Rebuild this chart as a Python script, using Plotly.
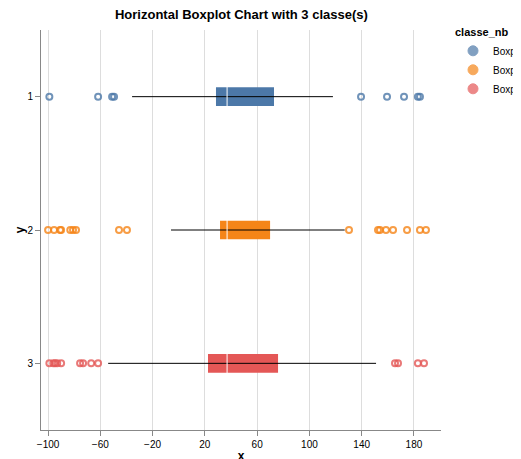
import plotly.graph_objects as go

classes = ["1", "2", "3"]
names = ["Boxplot_1", "Boxplot_2", "Boxplot_3"]
colors = ["#4c78a8", "#f58518", "#e45756"]
q1 = [28.5, 31.6, 22.4]
median = [37, 37, 37]
q3 = [72.9, 69.9, 76.0]
lower = [-35.7, -5.9, -54.0]
upper = [118.0, 127.0, 151.0]
outliers = [
    [-99, -61.7, -51, -49.5, 139.5, 159.4, 172.4, 183, 184.6],
    [-100, -95.4, -90.8, -90, -83, -80.9, -78.6, -45.7, -39.6, 130.3,
     152.5, 154, 158.6, 164, 174.7, 184.6, 189.2],
    [-99, -96, -94.6, -93, -90, -75.5, -73.2, -67, -61.7, 165.5, 167.8, 183, 187.7],
]
x_ticks = [-100, -60, -20, 20, 60, 100, 140, 180]

fig = go.Figure()
for i, c in enumerate(classes):
    fig.add_trace(go.Scatter(x=[lower[i], upper[i]], y=[c, c], mode="lines",
                             line=dict(color="black", width=1), showlegend=False, hoverinfo="skip"))
    fig.add_trace(go.Bar(y=[c], x=[q3[i] - q1[i]], base=[q1[i]], orientation="h", width=0.14,
                         marker=dict(color=colors[i], line=dict(width=0)), showlegend=False))
    fig.add_trace(go.Scatter(x=[median[i]], y=[c], mode="markers",
                             marker=dict(symbol="line-ns", size=18, line=dict(color="white", width=1)),
                             showlegend=False))
    fig.add_trace(go.Scatter(x=outliers[i], y=[c] * len(outliers[i]), mode="markers",
                             marker=dict(symbol="circle-open", size=6, color=colors[i], opacity=0.8,
                                         line=dict(width=2)),
                             showlegend=False))
    fig.add_trace(go.Scatter(x=[None], y=[None], mode="markers", name=names[i],
                             marker=dict(symbol="circle", size=10, color=colors[i], opacity=0.7,
                                         line=dict(color=colors[i], width=1))))

fig.update_layout(
    width=521, height=459,
    margin=dict(l=33, r=88, t=22, b=37, autoexpand=False),
    plot_bgcolor="white", paper_bgcolor="white",
    font=dict(family="Liberation Sans, Arial", size=10, color="black"),
    title=dict(text="<b>Horizontal Boxplot Chart with 3 classe(s)</b>", x=0.448, xanchor="center",
               y=0.995, yanchor="top", font=dict(size=13)),
    legend=dict(title=dict(text="<b>classe_nb</b>", font=dict(size=11)), x=1.03, y=1.02,
                yanchor="top", font=dict(size=10), tracegroupgap=0),
    barmode="overlay",
)
fig.update_xaxes(range=[-105.4, 200.7], tickvals=x_ticks, title=dict(text="<b>x</b>", standoff=2),
                 showgrid=True, gridcolor="#dddddd", showline=True, linecolor="#888888",
                 ticks="outside", tickcolor="#888888", ticklen=5, zeroline=False, automargin=False)
fig.update_yaxes(categoryorder="array", categoryarray=classes[::-1], range=[-0.5, 2.5],
                 title=dict(text="<b>y</b>", standoff=0), showgrid=False, showline=True,
                 linecolor="#888888", ticks="outside", tickcolor="#888888", ticklen=5,
                 automargin=False)
fig.write_html("out.html")
